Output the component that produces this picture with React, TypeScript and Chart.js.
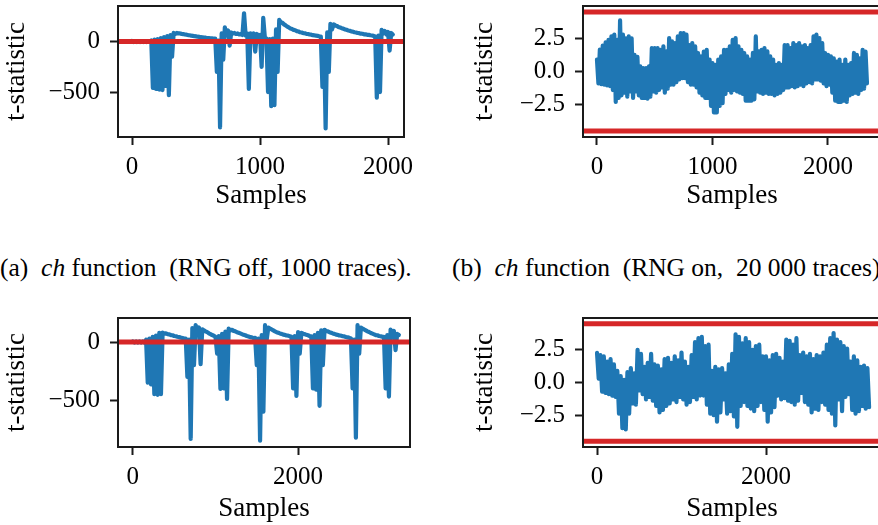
import React, { useEffect, useRef } from 'react';
import { Chart, registerables } from 'chart.js';

Chart.register(...registerables);

const FONT = "'Liberation Serif', 'Times New Roman', serif";
const BLUE = '#1f77b4';
const RED = '#d62728';

// ---------- Panel (a): RNG off, 1000 traces (upper/lower envelope per 25-sample step)
const aStep = 25;
const aHigh = [
  5, 5, 5, 5, 5, 5, 10, 20, 25, 35,
  45, 55, 65, 85, 85, 80, 74, 68, 62, 56,
  51, 46, 42, 38, 34, 31, 28, 10, 80, 140,
  110, 90, 85, 80, 75, 280, 80, 80, 80, 75,
  65, 235, 30, 25, 30, 120, 215, 185, 160, 140,
  125, 112, 100, 90, 82, 75, 68, 62, 56, 50,
  0, 90, 175, 170, 155, 140, 128, 117, 107, 98,
  90, 83, 77, 71, 66, 60, 50, 60, 115, 105,
  95, 85,
];
const aLow = [
  -5, -5, -5, -5, -5, -5, -460, -470, -475, -480,
  -440, -530, -150, 75, 80, 76, 70, 64, 58, 53,
  48, 43, 39, 35, 32, 28, -300, -850, -180, 60,
  -40, 80, 75, 70, 65, 60, -470, 40, -100, 50,
  -250, 40, -500, -640, -630, -300, 190, 170, 148, 130,
  115, 103, 92, 83, 76, 70, 63, 58, 52, -450,
  -860, -300, 120, 160, 145, 132, 120, 110, 100, 92,
  85, 78, 72, 67, 62, 56, -555, -500, 80, 70,
  -90, 70,
];
const aThresholds = [0];
const aXTicks = [0, 1000, 2000];
const aYTicks = [-500, 0];

// ---------- Panel (b): RNG on, 20 000 traces
const bStep = 25;
const bHigh = [
  0.9, 1.65, 1.95, 2.2, 2.4, 2.65, 2.78, 2.4, 3.86, 2.78,
  2.5, 2.65, 2.5, 1.26, 1.1, 0.38, 0.25, 0.25, 0.38, 1.77,
  1.77, 1.77, 1.64, 1.9, 1.52, 2.53, 2.27, 2.15, 2.65, 2.9,
  2.9, 2.78, 2.0, 2.15, 1.9, 1.4, 1.14, 1.5, 1.64, 0.9,
  0.63, 0.5, 0.9, 1.14, 1.64, 1.64, 1.9, 2.4, 2.53, 1.9,
  1.64, 1.4, 1.14, 0.9, 1.4, 2.65, 1.52, 1.64, 1.77, 1.52,
  1.14, 0.9, 0.5, 0.63, 0.5, 2.0, 2.0, 1.77, 2.15, 2.0,
  2.15, 1.9, 2.0, 1.77, 2.0, 2.65, 2.78, 2.53, 2.15, 1.4,
  1.26, 1.14, 1.0, 0.75, 0.9, 0.5, 0.9, 0.5, 0.63, 1.4,
  1.26, 1.0, 1.64, 1.5,
];
const bLow = [
  -0.9, -0.96, -1.0, -1.05, -1.1, -1.4, -2.3, -2.0, -1.8, -1.6,
  -1.9, -1.5, -2.0, -1.5, -1.8, -2.0, -2.0, -2.05, -1.9, -1.5,
  -1.6, -1.4, -1.2, -1.6, -1.3, -1.0, -1.0, -0.8, -0.6, -0.5,
  -0.5, -0.8, -1.0, -1.0, -1.2, -1.6, -1.8, -2.0, -2.0, -2.6,
  -3.1, -3.1, -2.6, -2.4, -1.7, -1.4, -1.6, -1.4, -1.5, -1.6,
  -1.7, -2.2, -2.2, -2.2, -2.1, -1.5, -1.6, -1.7, -1.6, -1.7,
  -1.7, -1.8, -1.7, -1.6, -1.4, -1.2, -1.2, -1.1, -1.2, -1.1,
  -1.0, -1.1, -0.9, -0.8, -0.9, -0.6, -0.6, -0.7, -0.9, -1.1,
  -1.0, -1.6, -2.2, -2.3, -2.3, -2.2, -2.3, -1.8, -1.7, -1.6,
  -1.7, -1.4, -1.3, -0.9,
];
const bThresholds = [4.5, -4.5];
const bXTicks = [0, 1000, 2000];
const bYTicks = [-2.5, 0, 2.5];

// ---------- Panel (c): lower left
const cStep = 40;
const cHigh = [
  5, 5, 5, 5, 20, 30, 45, 55, 80, 82,
  75, 66, 58, 50, 42, 35, 30, 20, 120, 145,
  125, 110, 92, 75, 60, 45, 50, 70, 90, 115,
  105, 92, 80, 68, 58, 48, 40, 35, 30, 60,
  145, 125, 108, 92, 80, 70, 62, 55, 45, 50,
  86, 80, 68, 58, 50, 60, 80, 100, 105, 92,
  80, 70, 62, 55, 48, 40, 30, 20, 145, 125,
  108, 92, 78, 66, 58, 50, 45, 60, 107, 95,
  70,
];
const cLow = [
  -5, -5, -5, -5, -350, -365, -450, -455, -450, 70,
  68, 60, 52, 45, 38, 30, -300, -835, -200, 100,
  -190, 100, 85, 68, 54, -100, -405, -400, -490, 100,
  96, 85, 74, 62, 52, 42, 34, -200, -850, -600,
  20, 115, 100, 85, 74, 64, 56, 50, -400, -465,
  -100, 72, 62, 52, -400, -410, -550, -200, 95, 85,
  74, 64, 56, 50, 43, 36, -400, -825, -100, 115,
  100, 86, 72, 60, 52, 45, -400, -470, 60, -70,
  60,
];
const cThresholds = [0];
const cXTicks = [0, 2000];
const cYTicks = [-500, 0];

// ---------- Panel (d): lower right
const dStep = 40;
const dHigh = [
  2.27, 2.1, 2.0, 1.6, 1.8, 1.4, 0.9, 0.5, 0.2, 0.8,
  1.1, 0.7, 2.5, 2.2, 1.2, 1.5, 2.2, 1.4, 1.3, 1.0,
  1.8, 1.9, 1.5, 2.0, 1.7, 2.3, 1.6, 1.2, 2.1, 3.1,
  3.4, 3.5, 2.8, 2.9, 0.9, 1.2, 1.0, 1.1, 0.7, 1.4,
  2.2, 3.7, 3.5, 3.0, 3.4, 3.1, 2.5, 2.8, 2.9, 2.0,
  2.0, 1.7, 2.1, 2.2, 1.9, 1.6, 3.3, 3.2, 2.9, 3.4,
  2.1, 2.3, 2.0, 2.2, 1.8, 2.1, 2.0, 2.3, 2.9, 3.4,
  3.8, 3.3, 3.1, 2.8, 2.6, 1.6, 2.0, 1.7, 1.2, 1.3,
  1.1,
];
const dLow = [
  0.3, -0.7, -0.8, -0.9, -1.0, -1.1, -2.4, -3.5, -3.6, -2.4,
  -1.6, -1.7, -0.6, -0.9, -1.3, -1.1, -1.4, -1.8, -2.3, -2.1,
  -1.8, -1.6, -1.3, -1.5, -1.1, -1.3, -1.7, -1.5, -1.1, -1.3,
  -1.0, -1.0, -1.7, -2.4, -2.5, -3.0, -2.3, -1.3, -2.4, -2.2,
  -2.6, -3.4, -1.8, -1.5, -1.8, -2.0, -2.2, -1.8, -1.5, -2.1,
  -3.0, -2.3, -1.9, -1.0, -1.3, -1.2, -1.4, -1.5, -1.7, -1.4,
  -0.8, -1.5, -1.7, -2.3, -2.0, -2.1, -1.5, -1.7, -2.1, -2.4,
  -3.3, -1.3, -2.2, -1.1, -0.9, -2.1, -2.4, -2.2, -1.8, -2.0,
  -1.9,
];
const dThresholds = [4.5, -4.5];
const dXTicks = [0, 2000];
const dYTicks = [-2.5, 0, 2.5];

type PanelSpec = {
  step: number;
  high: number[];
  low: number[];
  thresholds: number[];
  xTicks: number[];
  yTicks: number[];
  decimals: number;
  xMin: number;
  xMax: number;
  yMin: number;
  yMax: number;
  left: number;
  top: number;
  width: number;
  height: number;
  padTop: number;
  padRight: number;
  yAxisWidth: number;
  xAxisHeight: number;
  yTitlePad: number;
  xTitlePad: number;
};

const panels: PanelSpec[] = [
  {
    step: aStep, high: aHigh, low: aLow, thresholds: aThresholds, xTicks: aXTicks, yTicks: aYTicks, decimals: 0,
    xMin: -110, xMax: 2125, yMin: -945, yMax: 352,
    left: 0, top: 0, width: 430, height: 220, padTop: 6, padRight: 26, yAxisWidth: 118, xAxisHeight: 83,
    yTitlePad: 1, xTitlePad: 8,
  },
  {
    step: bStep, high: bHigh, low: bLow, thresholds: bThresholds, xTicks: bXTicks, yTicks: bYTicks, decimals: 1,
    xMin: -121, xMax: 2459, yMin: -4.95, yMax: 4.95,
    left: 440, top: 0, width: 460, height: 220, padTop: 6, padRight: 19, yAxisWidth: 143, xAxisHeight: 83,
    yTitlePad: 29, xTitlePad: 8,
  },
  {
    step: cStep, high: cHigh, low: cLow, thresholds: cThresholds, xTicks: cXTicks, yTicks: cYTicks, decimals: 0,
    xMin: -180, xMax: 3355, yMin: -905, yMax: 207,
    left: 0, top: 300, width: 430, height: 225, padTop: 18, padRight: 20, yAxisWidth: 118, xAxisHeight: 78,
    yTitlePad: 1, xTitlePad: 0,
  },
  {
    step: dStep, high: dHigh, low: dLow, thresholds: dThresholds, xTicks: dXTicks, yTicks: dYTicks, decimals: 1,
    xMin: -166, xMax: 3361, yMin: -4.95, yMax: 4.95,
    left: 440, top: 300, width: 460, height: 225, padTop: 18, padRight: 19, yAxisWidth: 143, xAxisHeight: 78,
    yTitlePad: 29, xTitlePad: 0,
  },
];

function buildTrace(step: number, high: number[], low: number[]) {
  const pts: { x: number; y: number }[] = [];
  const n = Math.min(high.length, low.length);
  for (let i = 0; i < n; i++) {
    pts.push({ x: i * step, y: high[i] });
    pts.push({ x: i * step + step / 2, y: low[i] });
  }
  return pts;
}

function fmt(v: number, decimals: number) {
  const s = Math.abs(v).toFixed(decimals);
  return v < 0 ? '\u2212' + s : s;
}

const framePlugin = {
  id: 'frameBox',
  afterDatasetsDraw(chart: any) {
    const { ctx, chartArea } = chart;
    const { left, top, right, bottom } = chartArea;
    ctx.save();
    ctx.strokeStyle = '#1a1a1a';
    ctx.lineWidth = 2;
    ctx.strokeRect(left, top, right - left, bottom - top);
    ctx.restore();
  },
};

function ChartPanel({ p }: { p: PanelSpec }) {
  const ref = useRef<HTMLCanvasElement>(null);
  useEffect(() => {
    if (!ref.current) return;
    const thresholdSets = p.thresholds.map((t) => ({
      data: [
        { x: p.xMin, y: t },
        { x: p.xMax, y: t },
      ],
      borderColor: RED,
      borderWidth: 5,
      pointRadius: 0,
      borderCapStyle: 'butt',
      order: 0,
    }));
    const traceSet = {
      data: buildTrace(p.step, p.high, p.low),
      borderColor: BLUE,
      borderWidth: 4.2,
      pointRadius: 0,
      tension: 0,
      borderJoinStyle: 'round',
      borderCapStyle: 'round',
      order: 1,
    };
    const tickFont = { family: FONT, size: 25 };
    const titleFont = { family: FONT, size: 27 };
    const gridCfg = {
      display: true,
      drawOnChartArea: false,
      drawTicks: true,
      tickLength: 8,
      tickWidth: 2,
      tickColor: '#1a1a1a',
      color: '#1a1a1a',
    };
    const chart = new Chart(ref.current, {
      type: 'line',
      data: { datasets: [...thresholdSets, traceSet] as any },
      options: {
        responsive: false,
        animation: false,
        events: [],
        layout: { padding: { top: p.padTop, right: p.padRight, bottom: 0, left: 0 } },
        plugins: { legend: { display: false }, tooltip: { enabled: false } },
        scales: {
          x: {
            type: 'linear',
            min: p.xMin,
            max: p.xMax,
            afterBuildTicks: (s: any) => {
              s.ticks = p.xTicks.map((v) => ({ value: v }));
            },
            afterFit: (s: any) => {
              s.height = p.xAxisHeight;
              s.paddingLeft = 0;
              s.paddingRight = 0;
            },
            ticks: {
              autoSkip: false,
              maxRotation: 0,
              padding: 7,
              color: '#000',
              font: tickFont,
              callback: (v: any) => fmt(Number(v), 0),
            },
            grid: gridCfg,
            border: { display: false },
            title: {
              display: true,
              text: 'Samples',
              color: '#000',
              font: titleFont,
              padding: { top: 0, bottom: p.xTitlePad },
            },
          },
          y: {
            type: 'linear',
            min: p.yMin,
            max: p.yMax,
            afterBuildTicks: (s: any) => {
              s.ticks = p.yTicks.map((v) => ({ value: v }));
            },
            afterFit: (s: any) => {
              s.width = p.yAxisWidth;
              s.paddingTop = 0;
              s.paddingBottom = 0;
            },
            ticks: {
              autoSkip: false,
              padding: 10,
              color: '#000',
              font: tickFont,
              callback: (v: any) => fmt(Number(v), p.decimals),
            },
            grid: gridCfg,
            border: { display: false },
            title: {
              display: true,
              text: 't-statistic',
              color: '#000',
              font: titleFont,
              padding: { top: p.yTitlePad, bottom: 0 },
            },
          },
        },
      } as any,
      plugins: [framePlugin],
    });
    return () => chart.destroy();
  }, [p]);
  return (
    <canvas
      ref={ref}
      width={p.width}
      height={p.height}
      style={{ position: 'absolute', left: p.left, top: p.top, width: p.width, height: p.height, display: 'block' }}
    />
  );
}

const captionStyle: React.CSSProperties = {
  position: 'absolute',
  top: 255,
  fontFamily: FONT,
  fontSize: 25.5,
  lineHeight: '25px',
  whiteSpace: 'pre',
  color: '#000',
};

export default function App() {
  return (
    <div
      style={{
        position: 'absolute',
        left: 0,
        top: 0,
        width: 878,
        height: 525,
        overflow: 'hidden',
        background: '#fff',
      }}
    >
      {panels.map((p, i) => (
        <ChartPanel key={i} p={p} />
      ))}
      <div style={{ ...captionStyle, left: 0 }}>
        (a)  <i>ch</i> function  (RNG off, 1000 traces).
      </div>
      <div style={{ ...captionStyle, left: 452 }}>
        (b)  <i>ch</i> function  (RNG on,  20 000 traces)
      </div>
    </div>
  );
}
